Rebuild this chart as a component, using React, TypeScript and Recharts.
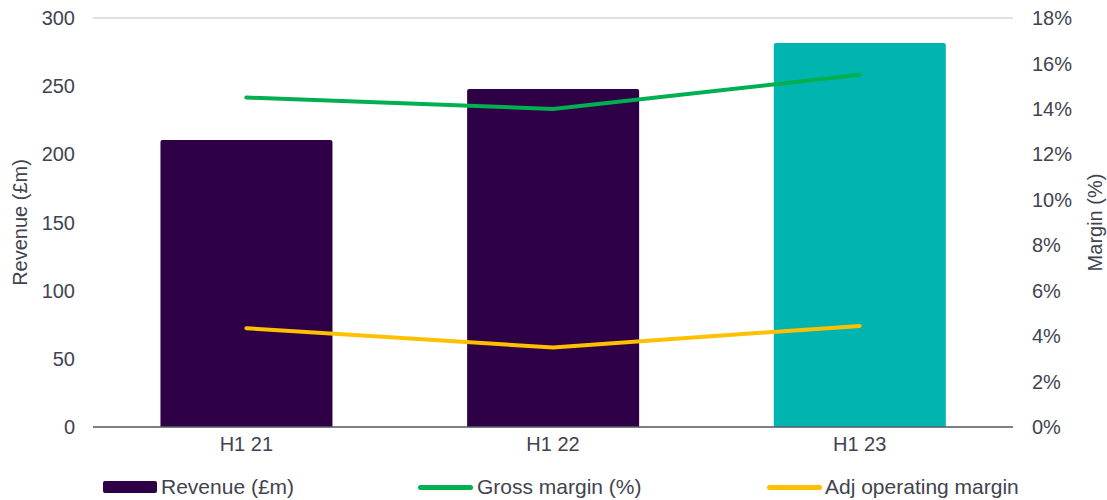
import {
  Bar,
  CartesianGrid,
  Cell,
  ComposedChart,
  Legend,
  Line,
  XAxis,
  YAxis,
} from "recharts";

const periods = ["H1 21", "H1 22", "H1 23"];
const revenue = [210.5, 248, 281.7];
const grossMargin = [14.5, 14.0, 15.5];
const adjOperatingMargin = [4.35, 3.5, 4.45];
const revenueTicks = [0, 50, 100, 150, 200, 250, 300];
const marginTicks = [0, 2, 4, 6, 8, 10, 12, 14, 16, 18];

const PURPLE = "#2E0045";
const TEAL = "#00B5B0";
const GREEN = "#00B050";
const YELLOW = "#FFC000";
const TEXT = "#41434F";
const FONT = "'Liberation Sans', Arial, sans-serif";

const data = periods.map((p, i) => ({
  period: p,
  revenue: revenue[i],
  gross: grossMargin[i],
  adj: adjOperatingMargin[i],
}));

function ChartLegend() {
  const item = { position: "absolute" as const, top: 0, height: 26, display: "flex", alignItems: "center" };
  const label = { fontSize: 21, color: TEXT, fontFamily: FONT, marginLeft: 4, whiteSpace: "nowrap" as const };
  return (
    <div style={{ position: "relative", width: 1107, height: 26 }}>
      <div style={{ ...item, left: 103 }}>
        <span style={{ width: 54, height: 12, background: PURPLE, borderRadius: 2 }} />
        <span style={label}>Revenue (£m)</span>
      </div>
      <div style={{ ...item, left: 418 }}>
        <span style={{ width: 55, height: 5, background: GREEN, borderRadius: 3 }} />
        <span style={label}>Gross margin (%)</span>
      </div>
      <div style={{ ...item, left: 767 }}>
        <span style={{ width: 55, height: 5, background: YELLOW, borderRadius: 3 }} />
        <span style={{ ...label, marginLeft: 3 }}>Adj operating margin</span>
      </div>
    </div>
  );
}

export default function App() {
  const tick = { fill: TEXT, fontSize: 20, fontFamily: FONT };
  return (
    <div style={{ position: "absolute", left: 0, top: 0, background: "#fff" }}>
      <ComposedChart
        width={1107}
        height={500}
        data={data}
        margin={{ top: 18, right: 0, bottom: 0, left: 0 }}
        barCategoryGap="22%"
      >
        <CartesianGrid vertical={false} stroke="#D3D7DC" strokeWidth={1.5} />
        <XAxis
          dataKey="period"
          tick={tick}
          tickLine={false}
          axisLine={{ stroke: "#5A5E68", strokeWidth: 1.5 }}
          height={47}
          tickMargin={4}
        />
        <YAxis
          yAxisId="left"
          domain={[0, 300]}
          ticks={revenueTicks}
          width={93}
          tick={tick}
          tickLine={false}
          axisLine={false}
          tickSize={0}
          tickMargin={18}
          label={{
            value: "Revenue  (£m)",
            angle: -90,
            position: "insideLeft",
            offset: 20,
            style: { textAnchor: "middle", fill: TEXT, fontSize: 20, fontFamily: FONT, whiteSpace: "pre" },
          }}
        />
        <YAxis
          yAxisId="right"
          orientation="right"
          domain={[0, 18]}
          ticks={marginTicks}
          tickFormatter={(v) => `${v}%`}
          width={94}
          tick={tick}
          tickLine={false}
          axisLine={false}
          tickSize={0}
          tickMargin={19}
          label={{
            value: "Margin (%)",
            angle: -90,
            position: "insideRight",
            offset: 12,
            style: { textAnchor: "middle", fill: TEXT, fontSize: 20, fontFamily: FONT },
          }}
        />
        <Bar yAxisId="left" dataKey="revenue" radius={[2, 2, 0, 0]} isAnimationActive={false}>
          {data.map((d, i) => (
            <Cell key={d.period} fill={i === data.length - 1 ? TEAL : PURPLE} />
          ))}
        </Bar>
        <Line
          yAxisId="right"
          dataKey="gross"
          stroke={GREEN}
          strokeWidth={4}
          strokeLinecap="round"
          dot={false}
          isAnimationActive={false}
        />
        <Line
          yAxisId="right"
          dataKey="adj"
          stroke={YELLOW}
          strokeWidth={4}
          strokeLinecap="round"
          dot={false}
          isAnimationActive={false}
        />
        <Legend verticalAlign="bottom" content={() => <ChartLegend />} />
      </ComposedChart>
    </div>
  );
}
